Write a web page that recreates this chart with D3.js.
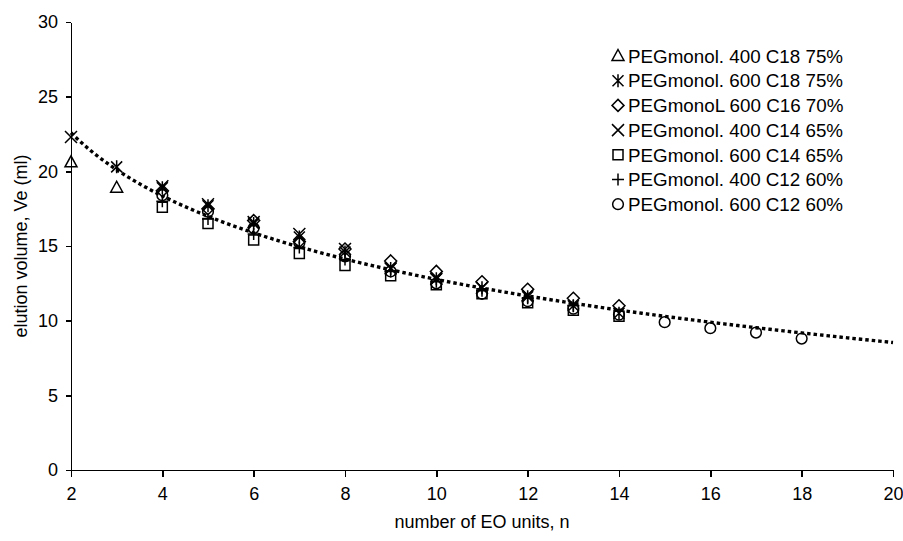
<!DOCTYPE html>
<html>
<head>
<meta charset="utf-8">
<script src="https://cdn.jsdelivr.net/npm/d3@7"></script>
<style>
  body { margin: 0; background: #fff; }
  svg text { font-family: "Liberation Sans", Arial, sans-serif; fill: #000; }
  .axis path, .axis line { stroke: #000; stroke-width: 1.4; shape-rendering: crispEdges; }
  .mark { fill: none; stroke: #000; stroke-width: 1.5; }
</style>
</head>
<body>
<div id="chart"></div>
<script>
// values, n = number of EO units, Ve in ml
var seriesNames = [
  "PEGmonol. 400 C18 75%",
  "PEGmonol. 600 C18 75%",
  "PEGmonoL 600 C16 70%",
  "PEGmonol. 400 C14 65%",
  "PEGmonol. 600 C14 65%",
  "PEGmonol. 400 C12 60%",
  "PEGmonol. 600 C12 60%"
];
var seriesShapes = ["triangle", "asterisk", "diamond", "cross", "square", "plus", "circle"];

var pegC18_400 = [[2, 20.6], [3, 18.9]];
var pegC18_600 = [[3, 20.3], [4, 18.9], [5, 17.7], [6, 16.5], [7, 15.6], [8, 14.6], [9, 13.5],
                  [10, 12.8], [11, 12.2], [12, 11.6], [13, 11.0], [14, 10.5]];
var pegC16_600 = [[4, 18.7], [5, 17.5], [6, 16.7], [7, 15.3], [8, 14.8], [9, 14.0],
                  [10, 13.3], [11, 12.6], [12, 12.1], [13, 11.5], [14, 11.0]];
var pegC14_400 = [[2, 22.3], [4, 19.0], [5, 17.8], [6, 16.6], [7, 15.8], [8, 14.8], [9, 13.5],
                  [10, 12.8], [11, 12.2], [12, 11.7]];
var pegC14_600 = [[4, 17.6], [5, 16.5], [6, 15.4], [7, 14.5], [8, 13.7], [9, 13.0],
                  [10, 12.4], [11, 11.8], [12, 11.2], [13, 10.7], [14, 10.3]];
var pegC12_400 = [[4, 18.0], [5, 16.8], [6, 15.8], [7, 14.9], [8, 14.1], [9, 13.3],
                  [10, 12.6], [11, 12.0], [12, 11.5], [13, 11.0]];
var pegC12_600 = [[4, 18.4], [5, 17.3], [6, 16.2], [7, 15.2], [8, 14.3], [9, 13.3],
                  [10, 12.5], [11, 11.8], [12, 11.3], [13, 10.8], [14, 10.4],
                  [15, 9.9], [16, 9.5], [17, 9.2], [18, 8.8]];

var seriesData = [pegC18_400, pegC18_600, pegC16_600, pegC14_400, pegC14_600, pegC12_400, pegC12_600];

var xTicks = [2, 4, 6, 8, 10, 12, 14, 16, 18, 20];
var yTicks = [0, 5, 10, 15, 20, 25, 30];

var width = 903, height = 541;
var margin = {top: 22, right: 10, bottom: 71, left: 71};

var svg = d3.select("#chart").append("svg")
    .attr("width", width)
    .attr("height", height);

var x = d3.scaleLinear().domain([2, 20]).range([margin.left, width - margin.right]);
var y = d3.scaleLinear().domain([0, 30]).range([height - margin.bottom, margin.top]);

// axes
svg.append("g")
    .attr("class", "axis")
    .attr("transform", "translate(0," + y(0) + ")")
    .call(d3.axisBottom(x).tickValues(xTicks).tickSize(7).tickPadding(10).tickSizeOuter(0))
    .call(function(g) { g.selectAll("text").style("font-size", "18px"); });

svg.append("g")
    .attr("class", "axis")
    .attr("transform", "translate(" + x(2) + ",0)")
    .call(d3.axisLeft(y).tickValues(yTicks).tickSize(5).tickPadding(8).tickSizeOuter(0))
    .call(function(g) { g.selectAll("text").style("font-size", "18px"); });

svg.append("text")
    .attr("x", (x(2) + x(20)) / 2)
    .attr("y", 528)
    .attr("text-anchor", "middle")
    .style("font-size", "18px")
    .text("number of EO units, n");

svg.append("text")
    .attr("transform", "translate(27," + y(15) + ") rotate(-90)")
    .attr("text-anchor", "middle")
    .style("font-size", "18px")
    .text("elution volume, Ve (ml)");

// logarithmic trend line fitted on all points (like the spreadsheet trendline)
var allPts = [].concat.apply([], seriesData);
var lx = allPts.map(function(p) { return Math.log(p[0]); });
var ly = allPts.map(function(p) { return p[1]; });
var mx = d3.mean(lx), my = d3.mean(ly);
var slope = d3.sum(lx, function(v, i) { return (v - mx) * (ly[i] - my); }) /
            d3.sum(lx, function(v) { return (v - mx) * (v - mx); });
var icpt = my - slope * mx;

var trendN = d3.range(2, 20.01, 0.1);
svg.append("path")
    .datum(trendN)
    .attr("fill", "none")
    .attr("stroke", "#000")
    .attr("stroke-width", 3.4)
    .attr("stroke-dasharray", "3.5,3")
    .attr("d", d3.line()
      .x(function(n) { return x(n); })
      .y(function(n) { return y(icpt + slope * Math.log(n)); }));

// marker shapes
function markerPath(shape) {
  switch (shape) {
    case "triangle": return "M0,-6.5L6,4.5L-6,4.5Z";
    case "asterisk": return "M-5.5,-5.5L5.5,5.5M-5.5,5.5L5.5,-5.5M0,-6.5L0,6.5";
    case "diamond": return "M0,-6L6,0L0,6L-6,0Z";
    case "cross": return "M-6,-6L6,6M-6,6L6,-6";
    case "square": return "M-5,-5L5,-5L5,5L-5,5Z";
    case "plus": return "M-6,0L6,0M0,-6L0,6";
    case "circle": return d3.symbol(d3.symbolCircle, 90)();
  }
}

seriesData.forEach(function(data, i) {
  svg.append("g").selectAll("path")
      .data(data)
    .enter().append("path")
      .attr("class", "mark")
      .attr("transform", function(d) { return "translate(" + x(d[0]) + "," + y(d[1]) + ")"; })
      .attr("d", markerPath(seriesShapes[i]));
});

// legend
var legend = svg.append("g").attr("transform", "translate(618,56)");
var row = legend.selectAll("g")
    .data(seriesNames)
  .enter().append("g")
    .attr("transform", function(d, i) { return "translate(0," + (i * 24.7) + ")"; });
row.append("path")
    .attr("class", "mark")
    .attr("d", function(d, i) { return markerPath(seriesShapes[i]); });
row.append("text")
    .attr("x", 10)
    .attr("dy", "0.36em")
    .style("font-size", "18.8px")
    .text(function(d) { return d; });
</script>
</body>
</html>
